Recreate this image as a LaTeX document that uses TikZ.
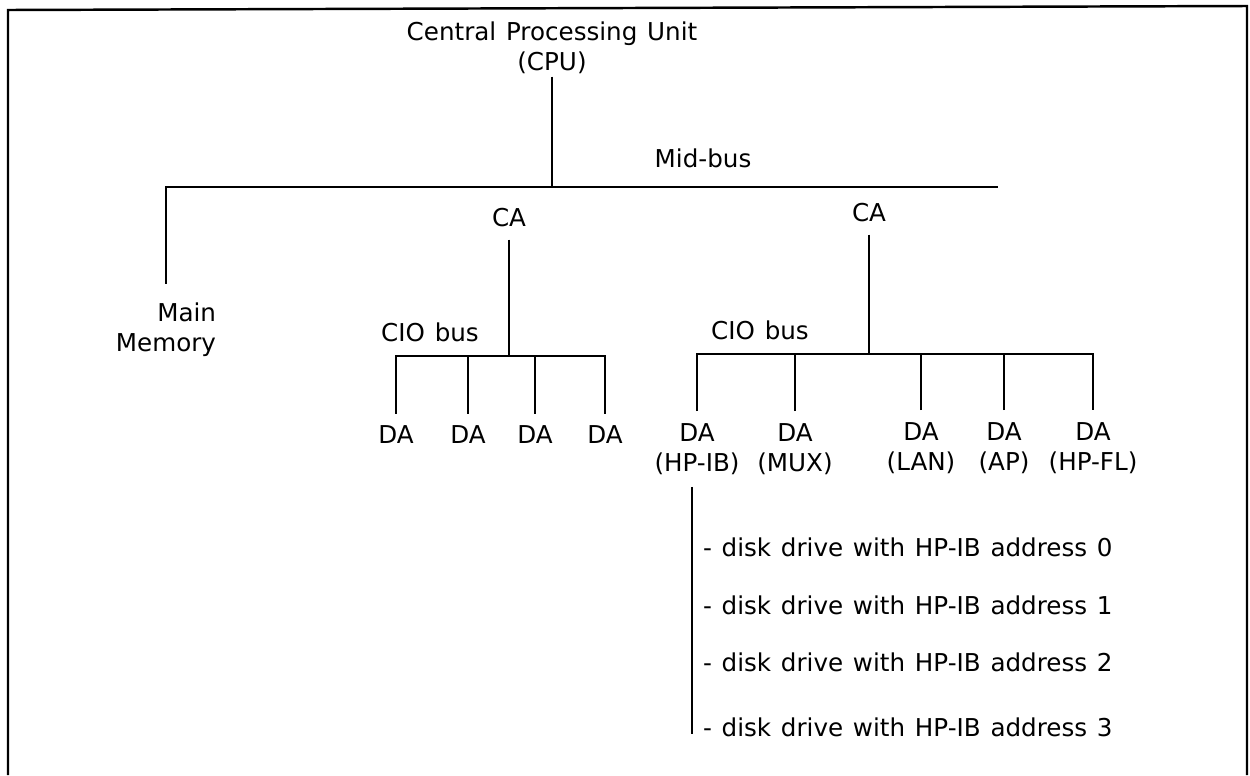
\documentclass[tikz,border=0pt]{standalone}
\usepackage{fontspec}
\setmainfont{DejaVu Sans}[WordSpace=1.25]
\usetikzlibrary{positioning}

\begin{document}
\begin{tikzpicture}[x=0.02cm, y=-0.02cm,
    lbl/.style={inner sep=0pt, outer sep=7pt, align=center, font=\fontsize{14}{17}\selectfont},
    bus/.style={draw, line width=1.2pt},
    node distance=3pt]
  \useasboundingbox (0,0) rectangle (1250,775);
  % frame (open at the bottom)
  \draw[line width=1.4pt] (8,775) -- (8,10) -- (1247,6) -- (1247,775);

  % CPU and Mid-bus
  \node[lbl, outer sep=1.5pt] (cpu) at (552,48) {Central Processing Unit\\(CPU)};
  \coordinate (mbend) at (998,187);
  \node[lbl] (midbus) at (703,158) {Mid-bus};
  \node[lbl, align=right, outer sep=11pt] (mem) at (166,330) {Main\\Memory};
  \draw[bus] (cpu.south) -- (cpu.south |- mbend);
  \draw[bus] (mem.north) |- (mbend);

  % left channel adapter
  \node[lbl] (caL) at (509,218) {CA};
  \coordinate (cioL) at (509,356);
  \node[lbl] (cioLlbl) at (430,332) {CIO bus};
  \node[lbl] (daA) at (396,435) {DA};
  \node[lbl] (daB) at (468,435) {DA};
  \node[lbl] (daC) at (535,435) {DA};
  \node[lbl] (daD) at (605,435) {DA};
  \draw[bus] (caL.south) -- (caL.south |- cioL);
  \draw[bus] (daA.north) |- (daD.north |- cioL) -- (daD.north);
  \foreach \n in {daB,daC} \draw[bus] (\n.north) -- (\n.north |- cioL);

  % right channel adapter
  \node[lbl] (caR) at (869,213) {CA};
  \coordinate (cioR) at (869,354);
  \node[lbl] (cioRlbl) at (760,330) {CIO bus};
  \node[lbl] (hpib) at (697,449) {DA\\(HP-IB)};
  \node[lbl] (mux) at (795,449) {DA\\(MUX)};
  \node[lbl] (lan) at (921,448) {DA\\(LAN)};
  \node[lbl] (ap) at (1004,448) {DA\\(AP)};
  \node[lbl] (hpfl) at (1093,448) {DA\\(HP-FL)};
  \draw[bus] (caR.south) -- (caR.south |- cioR);
  \draw[bus] (hpib.north) |- (hpfl.north |- cioR) -- (hpfl.north);
  \foreach \n in {mux,lan,ap} \draw[bus] (\n.north) -- (\n.north |- cioR);

  % disk drives on the HP-IB
  \draw[bus] ([xshift=-3pt]hpib.south) -- ++(0,247);
  \node[lbl, anchor=west, outer sep=0pt] (disk0) at (703,547) {- disk drive with HP-IB address 0};
  \node[lbl, anchor=west, outer sep=0pt] (disk1) at (703,605) {- disk drive with HP-IB address 1};
  \node[lbl, anchor=west, outer sep=0pt] (disk2) at (703,662) {- disk drive with HP-IB address 2};
  \node[lbl, anchor=west, outer sep=0pt] (disk3) at (703,727) {- disk drive with HP-IB address 3};
\end{tikzpicture}
\end{document}
